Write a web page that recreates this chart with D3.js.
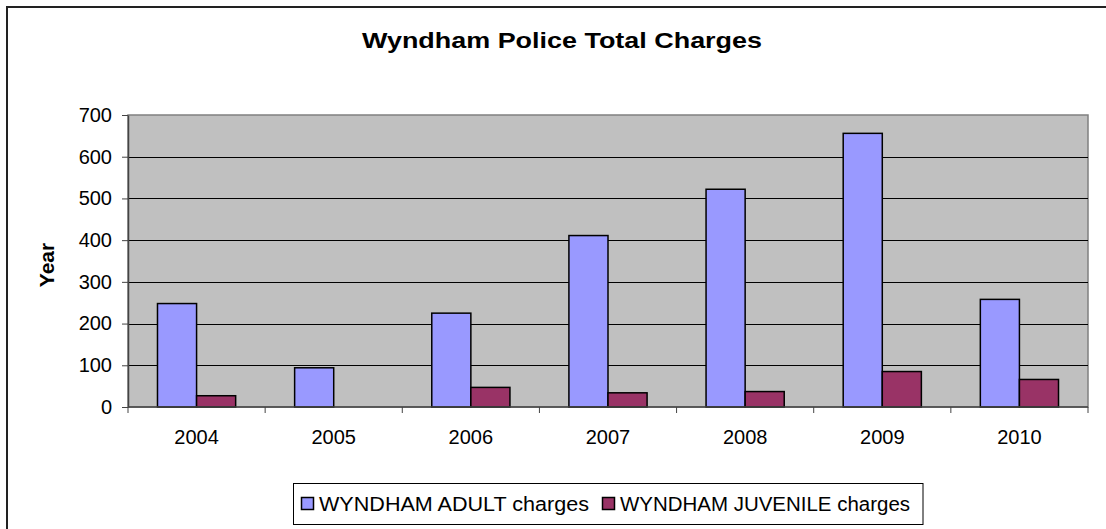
<!DOCTYPE html>
<html>
<head>
<meta charset="utf-8">
<script src="https://cdn.jsdelivr.net/npm/d3@7"></script>
<style>
  html, body { margin: 0; padding: 0; background: #fff; }
  svg { display: block; font-family: "Liberation Sans", Arial, sans-serif; }
</style>
</head>
<body>
<div id="chart"></div>
<script>
// chart data
const years = ["2004", "2005", "2006", "2007", "2008", "2009", "2010"];
const seriesNames = ["WYNDHAM ADULT charges", "WYNDHAM JUVENILE charges"];
const adultCharges = [248, 94, 225, 411, 522, 656, 258];
const juvenileCharges = [27, 0, 47, 34, 37, 85, 66];
const yTicks = [0, 100, 200, 300, 400, 500, 600, 700];
const seriesColors = ["#9999ff", "#993366"];

const width = 1106;
const height = 529;
const plot = { left: 128, right: 1088, top: 115, bottom: 407 };

const svg = d3.select("#chart").append("svg")
  .attr("width", width)
  .attr("height", height);

// outer chart frame (runs off the right and bottom edges)
svg.append("rect")
  .attr("x", 7)
  .attr("y", 7)
  .attr("width", 1300)
  .attr("height", 700)
  .attr("fill", "#fff")
  .attr("stroke", "#222")
  .attr("stroke-width", 2);

const x0 = d3.scaleBand()
  .domain(years)
  .range([plot.left, plot.right])
  .paddingInner(0.43)
  .paddingOuter(0.215);

const x1 = d3.scaleBand()
  .domain(seriesNames)
  .range([0, x0.bandwidth()]);

const y = d3.scaleLinear()
  .domain([0, 700])
  .range([plot.bottom, plot.top]);

// plot area
svg.append("rect")
  .attr("x", plot.left)
  .attr("y", plot.top)
  .attr("width", plot.right - plot.left)
  .attr("height", plot.bottom - plot.top)
  .attr("fill", "#c0c0c0")
  .attr("stroke", "#808080")
  .attr("stroke-width", 1.5);

// gridlines
svg.append("g")
  .selectAll("line")
  .data(yTicks.filter((t) => t > 0 && t < 700))
  .join("line")
  .attr("x1", plot.left)
  .attr("x2", plot.right)
  .attr("y1", (t) => Math.round(y(t)) + 0.5)
  .attr("y2", (t) => Math.round(y(t)) + 0.5)
  .attr("stroke", "#000")
  .attr("stroke-width", 1);

// bars
const rows = years.map((year, i) => ({ year, values: [adultCharges[i], juvenileCharges[i]] }));

svg.append("g")
  .selectAll("g")
  .data(rows)
  .join("g")
  .attr("transform", (d) => `translate(${x0(d.year)},0)`)
  .selectAll("rect")
  .data((d) => d.values.map((v, i) => ({ name: seriesNames[i], value: v, color: seriesColors[i] })))
  .join("rect")
  .filter((d) => d.value > 0)
  .attr("x", (d) => x1(d.name))
  .attr("y", (d) => y(d.value))
  .attr("width", x1.bandwidth())
  .attr("height", (d) => y(0) - y(d.value))
  .attr("fill", (d) => d.color)
  .attr("stroke", "#000")
  .attr("stroke-width", 1.5);

// y axis
const yAxis = svg.append("g")
  .attr("transform", `translate(${plot.left},0)`)
  .call(d3.axisLeft(y).tickValues(yTicks).tickSize(6).tickPadding(10).tickSizeOuter(0));
yAxis.select(".domain").attr("stroke", "#444").attr("stroke-width", 1.5);
yAxis.selectAll(".tick line").attr("stroke", "#444");
yAxis.selectAll("text")
  .attr("font-size", 20)
  .attr("fill", "#000")
  .attr("font-family", "Liberation Sans, Arial, sans-serif");

// x axis: ticks at category boundaries
const xAxis = svg.append("g")
  .attr("transform", `translate(0,${plot.bottom})`);
xAxis.append("line")
  .attr("x1", plot.left)
  .attr("x2", plot.right)
  .attr("stroke", "#444")
  .attr("stroke-width", 1.5);
const step = x0.step();
xAxis.selectAll("line.tick")
  .data(d3.range(years.length + 1))
  .join("line")
  .attr("class", "tick")
  .attr("x1", (i) => plot.left + i * step)
  .attr("x2", (i) => plot.left + i * step)
  .attr("y1", 0)
  .attr("y2", 6)
  .attr("stroke", "#444")
  .attr("stroke-width", 1);
xAxis.selectAll("text")
  .data(years)
  .join("text")
  .attr("x", (d) => x0(d) + x0.bandwidth() / 2)
  .attr("y", 37)
  .attr("text-anchor", "middle")
  .attr("font-size", 20)
  .text((d) => d);

// y axis title
svg.append("text")
  .attr("transform", "translate(54,265) rotate(-90)")
  .attr("text-anchor", "middle")
  .attr("font-size", 21)
  .attr("font-weight", "bold")
  .text("Year");

// chart title (the original text is drawn a little wide)
svg.append("text")
  .attr("x", 362)
  .attr("y", 48)
  .attr("font-size", 22)
  .attr("font-weight", "bold")
  .attr("textLength", 400)
  .attr("lengthAdjust", "spacingAndGlyphs")
  .text("Wyndham Police Total Charges");

// legend
const legendTextWidths = [270, 290];
const legend = svg.append("g");
const legendBox = legend.append("rect")
  .attr("x", 293.5)
  .attr("y", 483.5)
  .attr("height", 41)
  .attr("fill", "#fff")
  .attr("stroke", "#000")
  .attr("stroke-width", 1);
let lx = 301;
seriesNames.forEach((name, i) => {
  legend.append("rect")
    .attr("x", lx + 0.5)
    .attr("y", 497.5)
    .attr("width", 12)
    .attr("height", 12)
    .attr("fill", seriesColors[i])
    .attr("stroke", "#000")
    .attr("stroke-width", 1.5);
  legend.append("text")
    .attr("x", lx + 18)
    .attr("y", 511)
    .attr("font-size", 20)
    .attr("textLength", legendTextWidths[i])
    .attr("lengthAdjust", "spacingAndGlyphs")
    .text(name);
  lx += 18 + legendTextWidths[i] + 13;
});
legendBox.attr("width", lx - 293.5);
</script>
</body>
</html>
